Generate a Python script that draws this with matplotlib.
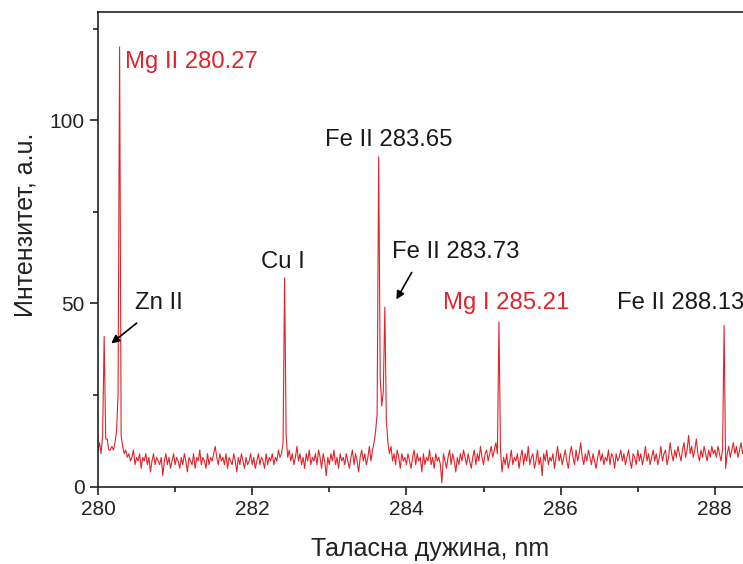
import numpy as np
import matplotlib
matplotlib.use("Agg")
import matplotlib.pyplot as plt
from matplotlib.ticker import MultipleLocator

plt.rcParams['font.family'] = ['Liberation Sans', 'DejaVu Sans']

# wavelength grid of the spectrum, nm (step 0.02)
wavelength = np.round(np.arange(280.0, 288.40001, 0.02), 2)

# intensity, one row = 0.4 nm
intensity = [
    10, 12, 9, 14, 41, 13, 13, 10, 10, 11, 10, 12, 15, 25, 120, 14, 11, 9, 10, 8,   # 280.00
    9, 7, 8, 10, 6, 8, 7, 9, 5, 8, 7, 9, 6, 8, 4, 7, 9, 6, 8, 7,                    # 280.40
    6, 8, 3, 7, 9, 6, 8, 5, 7, 9, 6, 8, 7, 5, 8, 6, 9, 7, 4, 8,                     # 280.80
    7, 6, 9, 5, 8, 7, 10, 6, 8, 7, 5, 9, 6, 8, 7, 9, 11, 8, 6, 9,                   # 281.20
    7, 8, 6, 9, 5, 8, 7, 6, 9, 7, 4, 8, 6, 9, 7, 5, 8, 6, 7, 9,                     # 281.60
    6, 8, 5, 7, 9, 6, 8, 7, 5, 9, 6, 8, 7, 9, 6, 8, 7, 10, 8, 9,                    # 282.00
    12, 57, 14, 8, 10, 7, 9, 6, 8, 11, 7, 9, 6, 8, 5, 9, 7, 10, 6, 8,               # 282.40
    7, 9, 6, 10, 8, 5, 9, 7, 3, 8, 6, 9, 7, 10, 6, 8, 5, 9, 7, 8,                   # 282.80
    6, 9, 7, 5, 8, 10, 6, 9, 7, 4, 8, 10, 7, 9, 6, 8, 11, 7, 10, 12,                # 283.20
    15, 20, 90, 30, 22, 26, 49, 18, 12, 9, 11, 7, 9, 6, 10, 8, 5, 9, 7, 8,          # 283.60
    6, 9, 7, 5, 8, 10, 6, 9, 7, 8, 4, 9, 6, 8, 7, 10, 6, 8, 5, 9,                   # 284.00
    7, 8, 6, 1, 9, 7, 5, 8, 10, 6, 9, 7, 4, 8, 6, 9, 7, 10, 8, 6,                   # 284.40
    9, 7, 5, 8, 10, 6, 9, 7, 11, 8, 6, 9, 10, 7, 9, 11, 8, 10, 12, 9,               # 284.80
    45, 10, 4, 8, 6, 9, 5, 7, 10, 6, 8, 7, 9, 5, 8, 10, 6, 9, 7, 11,                # 285.20
    6, 8, 9, 5, 7, 10, 6, 8, 3, 9, 7, 10, 6, 8, 7, 9, 5, 8, 11, 7,                  # 285.60
    9, 6, 8, 10, 7, 5, 9, 11, 8, 6, 10, 7, 9, 12, 8, 6, 9, 7, 10, 8,                # 286.00
    6, 9, 7, 5, 8, 10, 7, 9, 6, 8, 7, 10, 6, 9, 8, 5, 9, 7, 8, 10,                  # 286.40
    7, 9, 6, 8, 10, 7, 5, 9, 8, 6, 10, 7, 9, 6, 8, 11, 7, 9, 6, 8,                  # 286.80
    10, 7, 9, 6, 8, 11, 7, 9, 10, 6, 8, 12, 9, 7, 10, 8, 11, 9, 7, 10,              # 287.20
    12, 8, 10, 14, 9, 11, 8, 10, 13, 9, 7, 10, 8, 11, 9, 7, 10, 8, 11, 9,           # 287.60
    10, 8, 11, 9, 7, 10, 44, 5, 9, 11, 8, 10, 12, 9, 11, 8, 10, 12, 9, 11,          # 288.00
    10,                                                                             # 288.40
]

# line labels: text, x, y, colour
labels = ["Mg II 280.27", "Fe II 283.65", "Cu I", "Fe II 283.73", "Zn II", "Mg I 285.21", "Fe II 288.13"]
label_x = [280.35, 282.94, 282.12, 283.81, 280.48, 284.48, 286.73]
label_y = [115.8, 94.5, 61.3, 64.0, 50.1, 50.0, 50.0]
label_red = [True, False, False, False, False, True, False]

RED = '#e0242c'
DARK = '#222222'

fig = plt.figure(figsize=(7.43, 5.64), dpi=100)
ax = fig.add_axes([0.1319, 0.1371, 0.934, 0.8416])

ax.plot(wavelength, intensity, color=RED, lw=0.8)

ax.set_xlim(280, 289)
ax.set_ylim(0, 129.5)
ax.xaxis.set_major_locator(MultipleLocator(2))
ax.xaxis.set_minor_locator(MultipleLocator(1))
ax.yaxis.set_major_locator(MultipleLocator(50))
ax.yaxis.set_minor_locator(MultipleLocator(25))
ax.tick_params(which='both', direction='out', width=1.2, labelsize=15, colors=DARK)
ax.tick_params(which='major', length=6)
ax.tick_params(which='minor', length=3.5)
for s in ax.spines.values():
    s.set_linewidth(1.2)
    s.set_color(DARK)

ax.set_xlabel('Таласна дужина, nm', fontsize=18, color=DARK, va='center')
ax.xaxis.set_label_coords(0.478, -0.131)
ax.set_ylabel('Интензитет, a.u.', fontsize=18, color=DARK, va='center')
ax.yaxis.set_label_coords(-0.105, 0.551)

for txt, x, y, red in zip(labels, label_x, label_y, label_red):
    ax.text(x, y, txt, fontsize=17.2, color=RED if red else '#1a1a1a',
            ha='left', va='center', clip_on=False)

# arrows pointing at the small lines
ax.annotate('', xy=(280.143, 38.6), xytext=(280.53, 45.1),
            arrowprops=dict(arrowstyle='-|>', color='black', lw=1.2, mutation_scale=12))
ax.annotate('', xy=(283.852, 50.4), xytext=(284.086, 59.1),
            arrowprops=dict(arrowstyle='-|>', color='black', lw=1.2, mutation_scale=12))

fig.savefig('out.png', dpi=100)
